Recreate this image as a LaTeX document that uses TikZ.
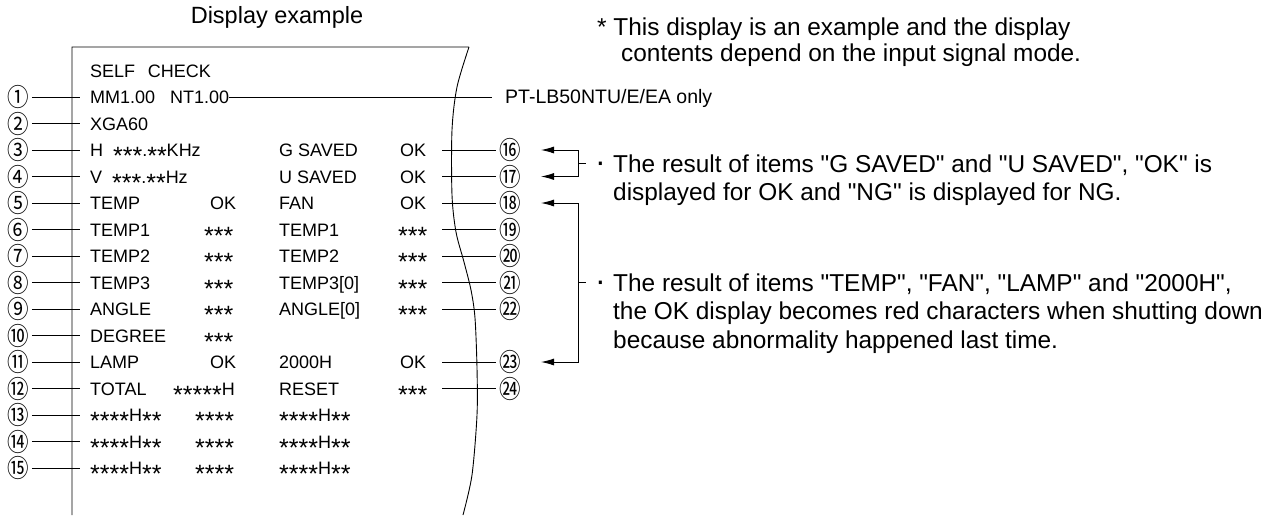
\documentclass[tikz,border=0pt]{standalone}
\usepackage{fontspec}
\setmainfont{Liberation Sans}[Ligatures=TeXOff]
\newfontfamily\cjk[FakeStretch=0.86]{Noto Sans CJK JP}
\usetikzlibrary{arrows.meta}
\newcommand\sx{{\fontsize{25}{25}\selectfont\raisebox{-8pt}{*}}}
\newcommand\sxx{\sx\sx\sx}
\tikzset{
  disp/.style={anchor=west, inner sep=0pt, font=\fontsize{18}{18}\selectfont, text height=13pt, text depth=0pt},
  num/.style={inner sep=0pt, font=\cjk\fontsize{25}{25}\selectfont},
  ln/.style={line width=0.9pt},
  note/.style={anchor=base west, inner sep=0pt, font=\fontsize{24.4}{24.4}\selectfont},
  tip/.style={ln, {Latex[length=13pt,width=7pt]}-{Latex[length=13pt,width=7pt]}},
}
\begin{document}
\begin{tikzpicture}[x=1pt,y=-1pt]
\useasboundingbox (0,0) rectangle (1266,515);
% title
\node[inner sep=0pt, font=\fontsize{23.5}{23.5}\selectfont] (title) at (277,17) {Display example};
% frame
\draw[ln] (72,515) -- (72,47) -- (469,47)
  plot[smooth] coordinates {(469,47) (457,87) (452,130) (452,195) (456,232) (464,262) (471,290) (475,318) (477,368) (477,415) (472,475) (463,515)};
% display contents
\node[disp] (sc) at (90,71) {SELF\hspace{0.7em}CHECK};
\node[disp] (mm) at (90,97) {MM1.00};
\node[disp] (nt) at (170,97) {NT1.00};
\node[disp, font=\fontsize{19.5}{19.5}\selectfont] (pt) at (505,97) {PT-LB50NTU/E/EA only};
\draw[ln] (nt.east) -- ([xshift=-13pt]pt.west);
\node[disp] (x2) at (90,123.5) {XGA60};
\node[disp] (h3) at (90,150) {H\hspace{0.55em}\sxx.\sx\sx KHz};
\node[disp] (g3) at (279,150) {G SAVED};
\node[disp] (o3) at (400,150) {OK};
\node[disp] (v4) at (90,176.5) {V\hspace{0.55em}\sxx.\sx\sx Hz};
\node[disp] (u4) at (279,176.5) {U SAVED};
\node[disp] (o4) at (400,176.5) {OK};
\node[disp] (t5) at (90,203) {TEMP};
\node[disp] (k5) at (210,203) {OK};
\node[disp] (f5) at (279,203) {FAN};
\node[disp] (o5) at (400,203) {OK};
\node[disp] (t6) at (90,229.5) {TEMP1};
\node[disp] (s6) at (204,229.5) {\sxx};
\node[disp] (r6) at (279,229.5) {TEMP1};
\node[disp] (q6) at (398,229.5) {\sxx};
\node[disp] (t7) at (90,256) {TEMP2};
\node[disp] (s7) at (204,256) {\sxx};
\node[disp] (r7) at (279,256) {TEMP2};
\node[disp] (q7) at (398,256) {\sxx};
\node[disp] (t8) at (90,282.5) {TEMP3};
\node[disp] (s8) at (204,282.5) {\sxx};
\node[disp] (r8) at (279,282.5) {TEMP3[0]};
\node[disp] (q8) at (398,282.5) {\sxx};
\node[disp] (t9) at (90,309) {ANGLE};
\node[disp] (s9) at (204,309) {\sxx};
\node[disp] (r9) at (279,309) {ANGLE[0]};
\node[disp] (q9) at (398,309) {\sxx};
\node[disp] (t10) at (90,335.5) {DEGREE};
\node[disp] (s10) at (204,335.5) {\sxx};
\node[disp] (t11) at (90,362) {LAMP};
\node[disp] (k11) at (210,362) {OK};
\node[disp] (r11) at (279,362) {2000H};
\node[disp] (o11) at (400,362) {OK};
\node[disp] (t12) at (90,388.5) {TOTAL};
\node[disp] (s12) at (173,388.5) {\sx\sx\sx\sx\sx H};
\node[disp] (r12) at (279,388.5) {RESET};
\node[disp] (q12) at (398,388.5) {\sxx};
\foreach \yy [count=\k] in {415,441.5,468}{
  \node[disp] (a\k) at (90,\yy) {\sx\sx\sx\sx H\sx\sx};
  \node[disp] (b\k) at (195,\yy) {\sx\sx\sx\sx};
  \node[disp] (c\k) at (279,\yy) {\sx\sx\sx\sx H\sx\sx};
}
% left markers
\foreach \c [count=\i] in {①,②,③,④,⑤,⑥,⑦,⑧,⑨,⑩,⑪,⑫,⑬,⑭,⑮}{
  \pgfmathsetmacro\yy{97+26.5*(\i-1)}
  \node[num] (L\i) at (18,\yy) {\c};
  \coordinate (F\i) at (80,\yy);
  \draw[ln] ([xshift=3pt]L\i.east) -- (F\i);
}
% right markers
\foreach \c/\r in {⑯/3,⑰/4,⑱/5,⑲/6,⑳/7,㉑/8,㉒/9,㉓/11,㉔/12}{
  \pgfmathsetmacro\yy{97+26.5*(\r-1)}
  \node[num] (R\r) at (510,\yy) {\c};
  \coordinate (S\r) at (442,\yy);
  \draw[ln] (S\r) -- ([xshift=-3pt]R\r.west);
}
% brackets
\coordinate (A3) at (578,150); \coordinate (B3) at (541,150);
\coordinate (A4) at (578,176.5); \coordinate (B4) at (541,176.5);
\coordinate (A5) at (578,203); \coordinate (B5) at (541,203);
\coordinate (A11) at (578,362); \coordinate (B11) at (541,362);
\draw[tip] (B3) -- (A3) -- (A4) -- (B4);
\draw[tip] (B5) -- (A5) -- (A11) -- (B11);
\coordinate (M1) at (578,163.25); \coordinate (N1) at (586,163.25);
\coordinate (M2) at (578,282.5); \coordinate (N2) at (586,282.5);
\draw[ln] (M1) -- (N1);
\draw[ln] (M2) -- (N2);
% notes
\node[note] (top1) at (597,35) {* This display is an example and the display};
\node[note] (top2) at (621,61) {contents depend on the input signal mode.};
\node[note, font=\fontsize{32}{32}\selectfont] (d1) at (595,172.5) {·};
\node[note] (a1) at (613,172) {The result of items "G SAVED" and "U SAVED", "OK" is};
\node[note] (a2) at (613,200.5) {displayed for OK and "NG" is displayed for NG.};
\node[note, font=\fontsize{32}{32}\selectfont] (d2) at (595,291.8) {·};
\node[note] (b1) at (613,291.3) {The result of items "TEMP", "FAN", "LAMP" and "2000H",};
\node[note] (b2) at (613,319.8) {the OK display becomes red characters when shutting down};
\node[note] (b3) at (613,348.3) {because abnormality happened last time.};
\end{tikzpicture}
\end{document}
